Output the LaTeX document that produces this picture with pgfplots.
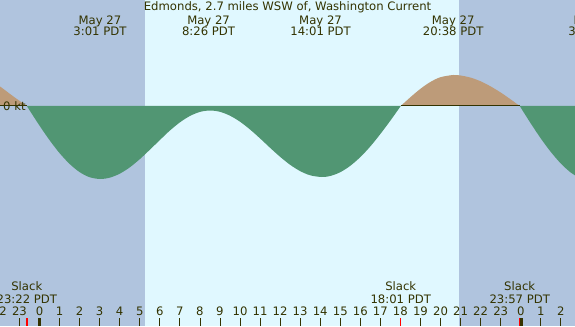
\documentclass[border=0pt]{standalone}
\usepackage{pgfplots}
\pgfplotsset{compat=1.18}
\usepackage{fontspec}
\setmainfont{DejaVu Sans}
\definecolor{nightbg}{RGB}{176,196,222}
\definecolor{daybg}{RGB}{224,248,255}
\definecolor{ebb}{RGB}{81,150,115}
\definecolor{flood}{RGB}{189,155,121}
\definecolor{txt}{RGB}{51,51,0}
\newcommand{\lf}{\fontsize{11.7}{13}\selectfont}
\tikzset{lbl/.style={font=\lf, text=txt, anchor=base}}
\begin{document}
\begin{tikzpicture}[x=1bp,y=1bp]
\useasboundingbox (0,0) rectangle (575,326);
\clip (0,0) rectangle (575,326);
\fill[nightbg] (0,0) rectangle (575,326);
\fill[daybg] (145,0) rectangle (459,326);
\begin{axis}[at={(0,0)}, anchor=south west, scale only axis,
  width=575bp, height=326bp,
  xmin=-1.970, xmax=26.708, ymin=-220, ymax=106,
  axis line style={draw=none}, axis on top,
  ytick=\empty,
  xtick={-1,0,1,2,3,4,5,6,7,8,9,10,11,12,13,14,15,16,17,18,19,20,21,22,23,24,25,26},
  xticklabels={23,0,1,2,3,4,5,6,7,8,9,10,11,12,13,14,15,16,17,18,19,20,21,22,23,0,1,2},
  xtick pos=bottom, xtick align=inside, major tick length=8bp,
  tick style={txt, line width=0.8bp},
  xticklabel style={anchor=base, yshift=10.3bp, font=\lf, text=txt},
  extra x ticks={-0.633,18.017,23.93},
  extra x tick labels={},
  extra x tick style={tick style={red, line width=1.4bp}},
]
\addplot[draw=none, fill=flood, smooth] coordinates {(-2.2,22) (-1.97,19.5) (-1.64,14.6) (-1.3,9.5) (-0.97,4.8) (-0.633,0)} \closedcycle;
\addplot[draw=none, fill=ebb, smooth] coordinates {(-0.633,0) (0,-19.6) (0.5,-34.1) (1,-47.1) (1.5,-57.9) (2,-66.1) (2.5,-71.2) (3.017,-73) (3.5,-71.7) (4,-67.7) (4.5,-61.4) (5,-53.2) (5.5,-43.8) (6,-34.1) (6.5,-24.6) (7,-16.4) (7.5,-10.0) (8,-5.9) (8.5,-4.5) (9,-5.8) (9.5,-9.7) (10,-15.7) (10.5,-23.5) (11,-32.4) (11.5,-41.8) (12,-50.8) (12.5,-58.8) (13,-65.1) (13.5,-69.3) (14.07,-71) (14.5,-70.0) (15,-66.2) (15.5,-59.8) (16,-51.1) (16.5,-40.4) (17,-28.0) (17.5,-14.6) (18.017,0)} \closedcycle;
\addplot[draw=none, fill=flood, smooth] coordinates {(18.017,0) (18.5,8.8) (19,17.2) (19.5,24.1) (20,28.8) (20.633,31) (21,30.5) (21.5,28.4) (22,24.7) (22.5,19.6) (23,13.5) (23.5,6.6) (23.95,0)} \closedcycle;
\addplot[draw=none, fill=ebb, smooth] coordinates {(23.95,0) (24.5,-17.4) (25,-32.4) (25.5,-45.9) (26,-57.5) (26.5,-66.6) (27,-72.8)} \closedcycle;
\addplot[txt, line width=1bp] coordinates {(18.017,0) (23.95,0)};
\addplot[txt, line width=1bp] coordinates {(-2.2,0) (-0.633,0)};
% midnight ticks
\draw[txt, line width=3bp] (axis cs:0,-220) -- (axis cs:0,-212);
\draw[txt, line width=2bp] (axis cs:24.04,-220) -- (axis cs:24.04,-212);
% labels
\node[lbl] at (axis cs:-2,-209.7) {22};
\node[lbl] at (axis cs:12.37,95.3) {Edmonds, 2.7 miles WSW of, Washington Current};
\node[lbl] at (axis cs:3.017,81.7) {May 27};
\node[lbl] at (axis cs:3.017,70.3) {3:01 PDT};
\node[lbl] at (axis cs:8.433,81.7) {May 27};
\node[lbl] at (axis cs:8.433,70.3) {8:26 PDT};
\node[lbl] at (axis cs:14.017,81.7) {May 27};
\node[lbl] at (axis cs:14.017,70.3) {14:01 PDT};
\node[lbl] at (axis cs:20.633,81.7) {May 27};
\node[lbl] at (axis cs:20.633,70.3) {20:38 PDT};
\node[lbl] at (axis cs:27.7,81.7) {May 28};
\node[lbl] at (axis cs:27.7,70.3) {3:42 PDT};
\node[lbl] at (axis cs:-0.633,-184.7) {Slack};
\node[lbl] at (axis cs:-0.633,-197.3) {23:22 PDT};
\node[lbl] at (axis cs:18.017,-184.7) {Slack};
\node[lbl] at (axis cs:18.017,-197.3) {18:01 PDT};
\node[lbl] at (axis cs:23.95,-184.7) {Slack};
\node[lbl] at (axis cs:23.95,-197.3) {23:57 PDT};
\node[font=\lf, text=txt, anchor=base west, inner sep=0pt] at (axis cs:-1.82,-4.7) {0 kt};
\end{axis}
\end{tikzpicture}
\end{document}
